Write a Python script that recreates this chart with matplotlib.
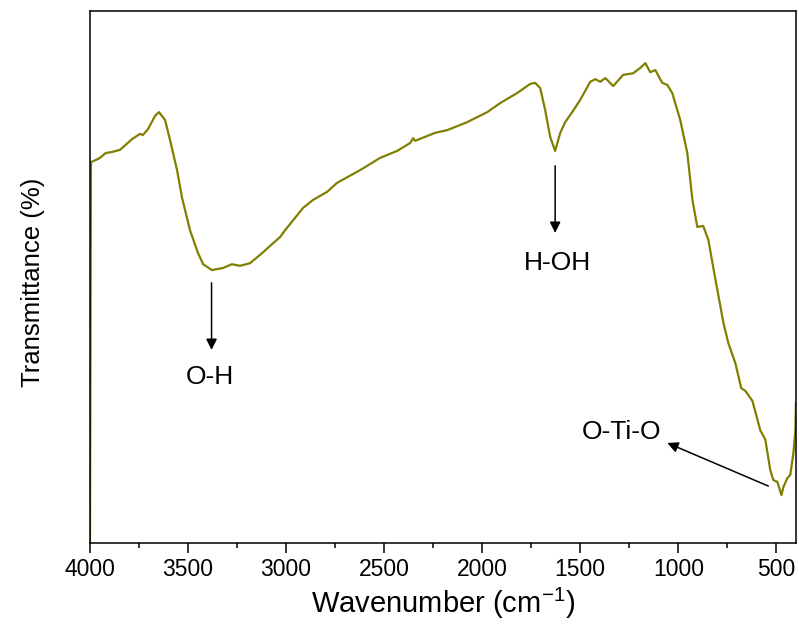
import matplotlib
matplotlib.use("Agg")
import matplotlib.pyplot as plt
import numpy as np

plt.rcParams['font.family'] = ['Liberation Sans', 'DejaVu Sans']
plt.rcParams['mathtext.default'] = 'regular'

# FTIR spectrum of the TiO2 sample (wavenumber in cm-1, transmittance in a.u. %)
wavenumber = [4000, 3995, 3970, 3949, 3920, 3888, 3847, 3786, 3745, 3730,
              3704, 3668, 3648, 3617, 3592, 3556, 3531, 3490, 3449, 3423,
              3378, 3350, 3321, 3276, 3235, 3184, 3122, 3071, 3031, 3005,
              2913, 2862, 2791, 2740, 2622, 2520, 2434, 2367, 2352, 2342,
              2240, 2179, 2077, 1974, 1908, 1821, 1755, 1730, 1704, 1679,
              1653, 1628, 1602, 1577, 1541, 1500, 1449, 1423, 1398, 1372,
              1332, 1281, 1230, 1194, 1168, 1143, 1117, 1082, 1056, 1031,
              990, 954, 928, 903, 873, 847, 811, 770, 745, 709,
              679, 658, 622, 582, 556, 531, 515, 495, 474, 464,
              444, 429, 413, 403, 400]
transmittance = [0.0, 71.6, 72.0, 72.4, 73.3, 73.5, 73.9, 75.9, 76.9, 76.7,
                 77.8, 80.3, 81.0, 79.5, 75.8, 70.1, 65.0, 58.8, 54.5, 52.4,
                 51.3, 51.5, 51.7, 52.4, 52.1, 52.6, 54.5, 56.2, 57.5, 58.8,
                 63.0, 64.5, 66.0, 67.7, 70.1, 72.4, 73.7, 75.2, 76.1, 75.6,
                 77.1, 77.6, 79.1, 81.0, 82.7, 84.6, 86.3, 86.5, 85.5, 81.4,
                 76.3, 73.7, 77.1, 79.1, 81.0, 83.3, 86.7, 87.2, 86.7, 87.4,
                 85.9, 88.0, 88.3, 89.3, 90.2, 88.5, 88.9, 86.5, 86.1, 84.6,
                 79.5, 73.3, 64.5, 59.4, 59.6, 57.0, 49.6, 41.4, 37.6, 33.8,
                 29.1, 28.6, 26.7, 21.2, 19.4, 13.7, 11.8, 11.5, 9.0, 10.5,
                 12.2, 12.8, 16.9, 21.2, 26.3]

x_ticks = [4000, 3500, 3000, 2500, 2000, 1500, 1000, 500]

fig = plt.figure(figsize=(7.99, 6.37), dpi=100)
ax = fig.add_axes([0.1126, 0.1476, 0.8836, 0.8351])

ax.plot(wavenumber, transmittance, color='#808000', lw=1.6)

ax.set_xlim(4000, 400)
ax.set_ylim(0, 100)
ax.set_xticks(x_ticks)
ax.set_xticks(np.arange(3750, 400, -500), minor=True)
ax.set_yticks([])
ax.tick_params(axis='x', which='major', direction='out', length=7, width=1.1,
               labelsize=16.5, pad=4)
ax.tick_params(axis='x', which='minor', direction='out', length=3.6, width=1.1)
for sp in ax.spines.values():
    sp.set_linewidth(1.1)

ax.set_xlabel('Wavenumber (cm$^{-1}$)', fontsize=21, labelpad=3)
ax.set_ylabel('Transmittance (%)', fontsize=18.5)
ax.yaxis.set_label_coords(-0.064, 0.49)

arrow = dict(arrowstyle='-|>', color='black', lw=1.1, mutation_scale=16,
             shrinkA=0, shrinkB=0)
ax.annotate('', xy=(3380, 36.3), xytext=(3380, 48.9), arrowprops=arrow)
ax.text(3390, 31.2, 'O-H', fontsize=19, ha='center', va='center')

ax.annotate('', xy=(1628, 58.3), xytext=(1628, 70.9), arrowprops=arrow)
ax.text(1618, 52.6, 'H-OH', fontsize=19, ha='center', va='center')

ax.annotate('', xy=(1056, 18.8), xytext=(541, 10.7), arrowprops=arrow)
ax.text(1291, 20.9, 'O-Ti-O', fontsize=19, ha='center', va='center')

fig.savefig('out.png', dpi=100)
